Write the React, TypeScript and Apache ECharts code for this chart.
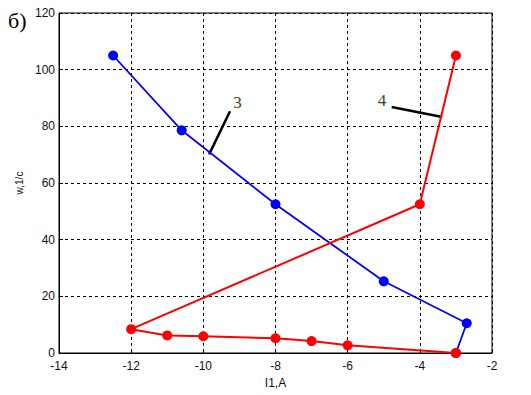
import React, { useEffect, useRef } from "react";
import * as echarts from "echarts";

// Curve 3 (blue)
const blueX = [-12.5, -10.6, -8, -5, -2.7, -3];
const blueY = [105, 78.6, 52.5, 25.3, 10.5, 0];
// Curve 4 (red)
const redX = [-3, -4, -12, -11, -10, -8, -7, -6, -3];
const redY = [105, 52.5, 8.4, 6.2, 5.9, 5.2, 4.2, 2.7, 0];
// Leader lines for labels
const lead3X = [-9.84, -9.26];
const lead3Y = [70.1, 85.3];
const lead4X = [-4.78, -3.38];
const lead4Y = [86.8, 83.3];
const labelNames = ["3", "4"];
const labelX = [-9.05, -5.05];
const labelY = [88.5, 89.2];

const xTicks = { min: -14, max: -2, interval: 2 };
const yTicks = { min: 0, max: 120, interval: 20 };

const pairs = (xs: number[], ys: number[]) => xs.map((x, i) => [x, ys[i]]);

export default function App() {
  const ref = useRef<HTMLDivElement>(null);
  useEffect(() => {
    document.body.style.margin = "0";
    if (!ref.current) return;
    const chart = echarts.init(ref.current, undefined, { renderer: "svg" });
    const axisFont = { fontFamily: "Liberation Sans, Arial, sans-serif", fontSize: 12, color: "#111" };
    chart.setOption({
      animation: false,
      backgroundColor: "#fff",
      grid: { left: 59, right: 39, top: 13, bottom: 42, show: true, borderColor: "#000", borderWidth: 1 },
      xAxis: {
        type: "value",
        ...xTicks,
        name: "I1,A",
        nameLocation: "middle",
        nameGap: 21,
        nameTextStyle: { ...axisFont },
        axisLine: { show: true, lineStyle: { color: "#000", width: 1 } },
        axisTick: { show: true, inside: true, length: 4, lineStyle: { color: "#000" } },
        axisLabel: { ...axisFont, margin: 7 },
        splitLine: { show: true, lineStyle: { color: "#000", type: [3, 3], width: 1 } },
      },
      yAxis: {
        type: "value",
        ...yTicks,
        name: "w,1/c",
        nameLocation: "middle",
        nameGap: 34,
        nameTextStyle: { ...axisFont, fontSize: 10 },
        axisLine: { show: true, lineStyle: { color: "#000", width: 1 } },
        axisTick: { show: true, inside: true, length: 4, lineStyle: { color: "#000" } },
        axisLabel: { ...axisFont, margin: 4 },
        splitLine: { show: true, lineStyle: { color: "#000", type: [3, 3], width: 1 } },
      },
      graphic: [
        {
          type: "text",
          left: 8,
          top: 9,
          style: { text: "б)", font: "22px 'Liberation Serif', serif", fill: "#000" },
        },
      ],
      series: [
        {
          type: "line",
          data: pairs(lead3X, lead3Y),
          symbol: "none",
          lineStyle: { color: "#000", width: 2.5 },
          z: 1,
        },
        {
          type: "line",
          data: pairs(lead4X, lead4Y),
          symbol: "none",
          lineStyle: { color: "#000", width: 2.5 },
          z: 1,
        },
        {
          type: "line",
          data: pairs(blueX, blueY),
          symbol: "circle",
          symbolSize: 10,
          itemStyle: { color: "#0000ff" },
          lineStyle: { color: "#0000ff", width: 1.8 },
          z: 2,
        },
        {
          type: "line",
          data: pairs(redX, redY),
          symbol: "circle",
          symbolSize: 10,
          itemStyle: { color: "#ff0000" },
          lineStyle: { color: "#ff0000", width: 2 },
          z: 3,
        },
        {
          type: "scatter",
          data: labelX.map((x, i) => ({ value: [x, labelY[i]], name: labelNames[i] })),
          symbolSize: 0,
          label: {
            show: true,
            position: "inside",
            formatter: (p: any) => p.name,
            fontFamily: "Liberation Serif, serif",
            fontSize: 17,
            color: "#000",
          },
          z: 4,
        },
      ],
    });
    return () => chart.dispose();
  }, []);
  return <div ref={ref} style={{ width: 531, height: 395 }} />;
}
